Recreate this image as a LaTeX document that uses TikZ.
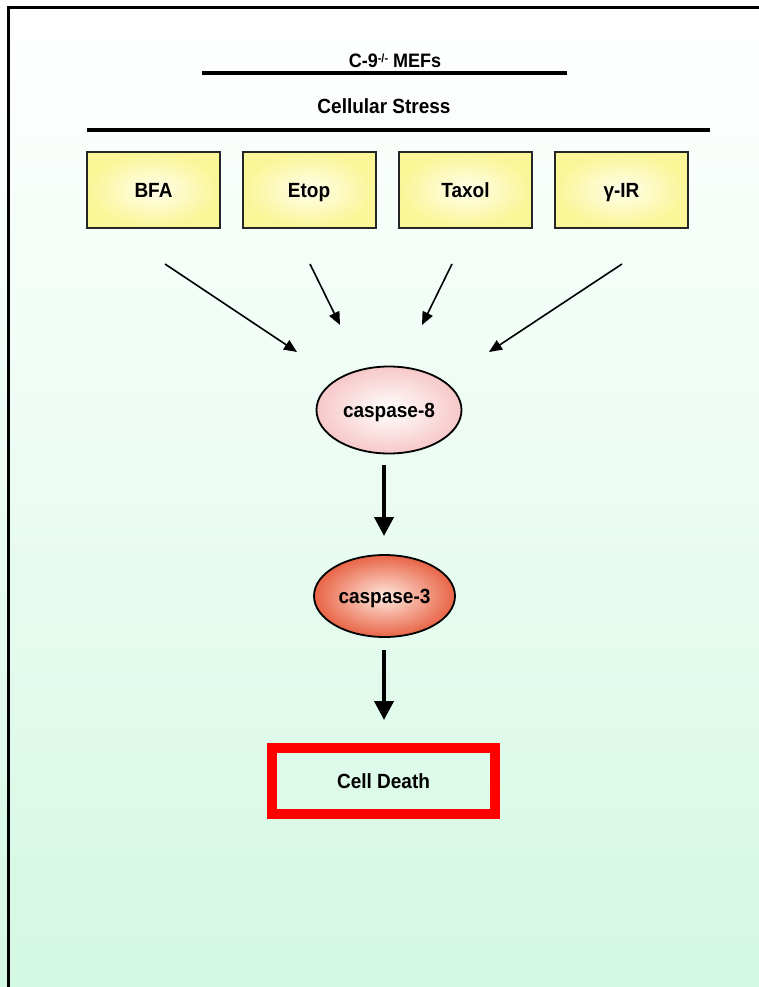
\documentclass[tikz,border=0pt]{standalone}
\usepackage{fontspec}
\usepackage{graphicx}
\setmainfont{Liberation Sans}
\usetikzlibrary{shapes.geometric,arrows.meta}
\definecolor{bgbottom}{RGB}{211,248,227}
\definecolor{boxedge}{RGB}{250,245,150}
\definecolor{boxmid}{RGB}{255,255,235}
\definecolor{pinkedge}{RGB}{247,200,200}
\definecolor{orangeedge}{RGB}{232,100,70}
\definecolor{orangemid}{RGB}{255,232,222}
\definecolor{deathred}{RGB}{255,0,0}
\newcommand{\talltext}[1]{\scalebox{1}[1.08]{#1}}
\tikzset{
  lbl/.style={font=\fontsize{19}{22}\selectfont\bfseries, text height=14.6pt, text depth=0pt, inner sep=0pt},
  stressbox/.style={lbl, draw=black!85, line width=2pt, minimum width=133pt, minimum height=76pt,
    shading=radial, inner color=boxmid, outer color=boxedge},
  casp/.style={lbl, ellipse, draw=black, line width=1.8pt, inner sep=0pt},
  thinarrow/.style={line width=1.6pt, -{Triangle[length=13pt,width=11pt]}},
  thickarrow/.style={line width=4pt, -{Triangle[length=19pt,width=19pt]}},
  rule/.style={line width=4.5pt}
}
\begin{document}
\begin{tikzpicture}[x=1pt,y=-1pt]
\useasboundingbox (0,0) rectangle (759,987);
\shade[top color=white, bottom color=bgbottom, middle color=white!55!bgbottom] (0,0) rectangle (759,987);
\draw[line width=3pt] (8.5,987) -- (8.5,7.5) -- (759,7.5);

\node[lbl, font=\fontsize{18}{21}\selectfont\bfseries, text height=13pt] (mef) at (395,61) {\talltext{C-9\raisebox{0.5ex}{\fontsize{11}{12}\selectfont -/-} MEFs}};
\coordinate (m1) at (202,73);
\coordinate (m2) at (567,73);
\draw[rule] (m1) -- (m2);
\node[lbl] (stress) at (384,106) {\talltext{Cellular Stress}};
\coordinate (s1) at (87,130);
\coordinate (s2) at (710,130);
\draw[rule] (s1) -- (s2);

\node[stressbox] (bfa) at (153.5,190) {\talltext{BFA}};
\node[stressbox] (etop) at (309,190) {\talltext{Etop}};
\node[stressbox] (taxol) at (465.5,190) {\talltext{Taxol}};
\node[stressbox] (gir) at (621.5,190) {\talltext{γ-IR}};

\node[casp, minimum width=145pt, minimum height=87pt, shading=radial, inner color=white, outer color=pinkedge] (c8) at (389,410) {\talltext{caspase-8}};
\node[casp, minimum width=141pt, minimum height=82pt, shading=radial, inner color=orangemid, outer color=orangeedge] (c3) at (384.5,596) {\talltext{caspase-3}};

\node[lbl, draw=deathred, line width=10pt, minimum width=223.6pt, minimum height=66.8pt] (death) at (383.5,781) {\talltext{Cell Death}};

\coordinate (a1s) at (165,264);
\coordinate (a1e) at (297,352);
\coordinate (a2s) at (310,264);
\coordinate (a2e) at (340,325);
\coordinate (a3s) at (452,264);
\coordinate (a3e) at (422,325);
\coordinate (a4s) at (622,264);
\coordinate (a4e) at (489,352);
\draw[thinarrow] (a1s) -- (a1e);
\draw[thinarrow] (a2s) -- (a2e);
\draw[thinarrow] (a3s) -- (a3e);
\draw[thinarrow] (a4s) -- (a4e);

\coordinate (b1s) at (384,465);
\coordinate (b1e) at (384,536);
\coordinate (b2s) at (384,650);
\coordinate (b2e) at (384,720);
\draw[thickarrow] (b1s) -- (b1e);
\draw[thickarrow] (b2s) -- (b2e);
\end{tikzpicture}
\end{document}
